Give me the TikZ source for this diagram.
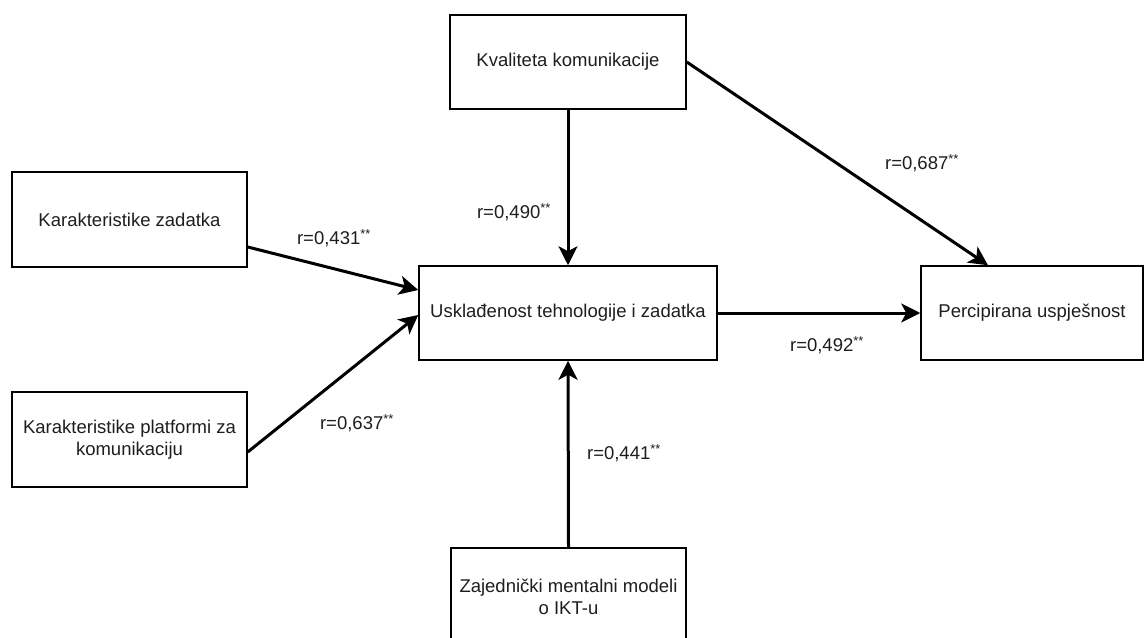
\documentclass[tikz,border=0pt]{standalone}
\usepackage{fontspec}
\setmainfont{Liberation Sans}
\usetikzlibrary{arrows.meta}
\definecolor{txt}{HTML}{1E1E1E}
\tikzset{
  box/.style={draw=black, line width=1.5pt, fill=white, text=txt, align=center,
    inner sep=2pt, font=\fontsize{18.5}{22}\selectfont},
  conn/.style={line width=3pt, -{Stealth[length=19pt,width=19pt,inset=5pt]}},
  lbl/.style={text=txt, font=\fontsize{18.5}{22}\selectfont, inner sep=0pt}
}
\begin{document}
\begin{tikzpicture}[x=1pt,y=-1pt]
\useasboundingbox (0,0) rectangle (1145,637);
\fill[white] (0,0) rectangle (1145,637);
\clip (0,0) rectangle (1145,637);

\node[box, minimum width=236pt, minimum height=94pt] (kval) at (568,62) {Kvaliteta komunikacije};
\node[box, minimum width=235pt, minimum height=95pt] (kz) at (129.5,219.5) {Karakteristike zadatka};
\node[box, minimum width=298pt, minimum height=94pt] (usk) at (568,313) {Usklađenost tehnologije i zadatka};
\node[box, minimum width=222pt, minimum height=94pt] (perc) at (1032,313) {Percipirana uspješnost};
\node[box, minimum width=235pt, minimum height=95pt] (kp) at (129.5,439.5) {Karakteristike platformi za\\komunikaciju};
\node[box, minimum width=235pt, minimum height=98pt] (zaj) at (568.5,597) {Zajednički mentalni modeli\\o IKT-u};

\draw[conn] (kval.south) -- (usk.north);
\draw[conn] (kval.east) -- ([xshift=-44pt]perc.north);
\draw[conn] ([yshift=-27.5pt]kz.east) -- ([yshift=23pt]usk.west);
\draw[conn] ([yshift=-12.5pt]kp.east) -- ([yshift=-2pt]usk.west);
\draw[conn] (usk.east) -- (perc.west);
\draw[conn] (zaj.north) -- (usk.south);

\node[lbl] (l1) at (334,238) {r=0,431\textsuperscript{**}};
\node[lbl] (l2) at (357,423) {r=0,637\textsuperscript{**}};
\node[lbl] (l3) at (514,212) {r=0,490\textsuperscript{**}};
\node[lbl] (l4) at (922,163) {r=0,687\textsuperscript{**}};
\node[lbl] (l5) at (827,345) {r=0,492\textsuperscript{**}};
\node[lbl] (l6) at (624,453) {r=0,441\textsuperscript{**}};
\end{tikzpicture}
\end{document}
